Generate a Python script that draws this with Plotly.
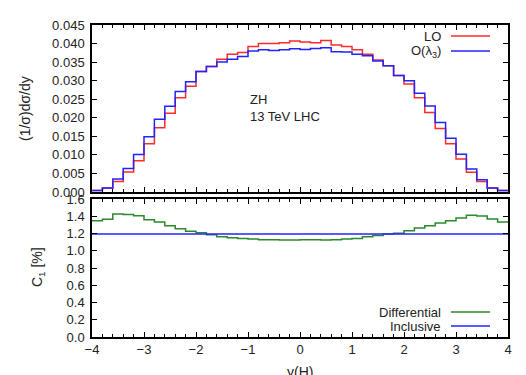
import numpy as np
import plotly.graph_objects as go

# ---- data ----
bin_edges = np.round(np.linspace(-4.0, 4.0, 41), 2)

lo = [0.0004, 0.0011, 0.0028, 0.0054, 0.0084, 0.0130, 0.0173, 0.0212, 0.0254, 0.0285,
      0.0325, 0.0338, 0.0358, 0.0371, 0.0376, 0.0392, 0.0400, 0.0400, 0.0402, 0.0407,
      0.0404, 0.0402, 0.0408, 0.0396, 0.0392, 0.0383, 0.0371, 0.0356, 0.0340, 0.0314,
      0.0291, 0.0254, 0.0214, 0.0171, 0.0130, 0.0089, 0.0053, 0.0028, 0.0011, 0.0004]

olam = [0.0004, 0.0011, 0.0035, 0.0063, 0.0101, 0.0149, 0.0196, 0.0231, 0.0271, 0.0297,
        0.0325, 0.0338, 0.0350, 0.0358, 0.0365, 0.0380, 0.0383, 0.0381, 0.0383, 0.0386,
        0.0384, 0.0387, 0.0389, 0.0378, 0.0377, 0.0371, 0.0367, 0.0353, 0.0340, 0.0314,
        0.0300, 0.0266, 0.0232, 0.0187, 0.0145, 0.0102, 0.0062, 0.0033, 0.0011, 0.0004]

c1_diff = [1.349, 1.364, 1.426, 1.419, 1.407, 1.360, 1.333, 1.291, 1.256, 1.225,
           1.209, 1.186, 1.163, 1.151, 1.143, 1.136, 1.128, 1.128, 1.124, 1.124,
           1.128, 1.128, 1.126, 1.128, 1.136, 1.143, 1.163, 1.178, 1.194, 1.202,
           1.233, 1.264, 1.291, 1.322, 1.349, 1.380, 1.411, 1.403, 1.368, 1.333]

c1_incl = 1.195

x_range = [-4, 4]
top_yticks = [0.0, 0.005, 0.010, 0.015, 0.020, 0.025, 0.030, 0.035, 0.040, 0.045]
bot_yticks = [0.0, 0.2, 0.4, 0.6, 0.8, 1.0, 1.2, 1.4, 1.6]
xticks = [-4, -3, -2, -1, 0, 1, 2, 3, 4]

RED = "#ff2a2a"
BLUE = "#2323ff"
GREEN = "#2a8a2a"
FONT = "Liberation Sans, Arial, Helvetica, sans-serif"

def step(vals):
    return list(vals) + [vals[-1]]

fig = go.Figure()
fig.add_trace(go.Scatter(x=bin_edges, y=step(lo), mode="lines", line=dict(color=RED, width=1.5, shape="hv"),
                         xaxis="x", yaxis="y", showlegend=False))
fig.add_trace(go.Scatter(x=bin_edges, y=step(olam), mode="lines", line=dict(color=BLUE, width=1.5, shape="hv"),
                         xaxis="x", yaxis="y", showlegend=False))
fig.add_trace(go.Scatter(x=bin_edges, y=step(c1_diff), mode="lines", line=dict(color=GREEN, width=1.5, shape="hv"),
                         xaxis="x2", yaxis="y2", showlegend=False))
fig.add_trace(go.Scatter(x=[x_range[0], x_range[1]], y=[c1_incl, c1_incl], mode="lines",
                         line=dict(color=BLUE, width=1.5), xaxis="x2", yaxis="y2", showlegend=False))

# geometry in pixels
W, H = 526, 375
L, R, T, B = 92, 508, 25, 337
pw, ph = R - L, B - T
def px(x): return (x - L) / pw
def py(y): return (B - y) / ph

axis_common = dict(showline=True, linecolor="black", linewidth=1.5, mirror="allticks",
                   ticks="inside", ticklen=5, tickcolor="black", tickwidth=1,
                   showgrid=False, zeroline=False,
                   tickfont=dict(family=FONT, size=13, color="#222"))

fig.update_layout(
    width=W, height=H,
    margin=dict(l=L, r=W - R, t=T, b=H - B, pad=0),
    paper_bgcolor="white", plot_bgcolor="white",
    font=dict(family=FONT, size=13, color="#222"),
    xaxis=dict(domain=[0, 1], anchor="y", range=x_range, tickvals=xticks, showticklabels=False,
               minor=dict(dtick=0.2, ticklen=3, ticks="inside", tickcolor="black"), **axis_common),
    yaxis=dict(domain=[py(192), 1], anchor="x", range=[0, 0.045], tickvals=top_yticks,
               tickformat=".3f", ticklabelstandoff=3, **axis_common),
    xaxis2=dict(domain=[0, 1], anchor="y2", range=x_range, tickvals=xticks,
                minor=dict(dtick=0.2, ticklen=3, ticks="inside", tickcolor="black"), **axis_common),
    yaxis2=dict(domain=[0, py(199)], anchor="x2", range=[0, 1.6], tickvals=bot_yticks,
                tickformat=".1f", ticklabelstandoff=3, **axis_common),
)

def note(text, x, y, xanchor="center", **kw):
    return dict(text=text, x=px(x), y=py(y), xref="paper", yref="paper",
                xanchor=xanchor, yanchor="middle", showarrow=False, **kw)

ann = []
ann.append(note("(1/σ)dσ/dy", 25, 109, textangle=-90, font=dict(size=14)))
ann.append(note("C<sub>1</sub> [%]", 38, 267, textangle=-90, font=dict(size=14)))
ann.append(note("y(H)", 300, 372, font=dict(size=14)))
ann.append(note("ZH", 248, 99, xanchor="left", font=dict(size=13)))
ann.append(note("13 TeV LHC", 248, 117, xanchor="left", font=dict(size=13)))

legend_items = [("LO", RED, 36), ("O(λ<sub>3</sub>)", BLUE, 51),
                ("Differential", GREEN, 312), ("Inclusive", BLUE, 326)]
shapes = []
for label, col, yy in legend_items:
    ann.append(note(label, 443, yy, xanchor="right", font=dict(size=13)))
    shapes.append(dict(type="line", xref="paper", yref="paper", x0=px(451), x1=px(490),
                       y0=py(yy), y1=py(yy), line=dict(color=col, width=1.5)))

fig.update_layout(annotations=ann, shapes=shapes)
fig.write_html("out.html")
